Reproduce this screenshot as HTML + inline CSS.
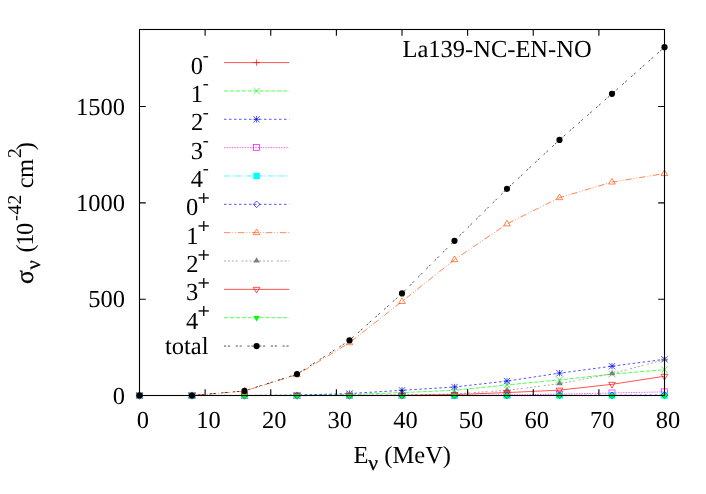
<!DOCTYPE html>
<html><head><meta charset="utf-8"><title>La139-NC-EN-NO</title>
<style>html,body{margin:0;padding:0;background:#fff;}svg{display:block;will-change:transform;text-rendering:geometricPrecision;}text{font-family:"Liberation Serif",serif;font-size:24.5px;fill:#000;}</style></head><body>
<svg width="706" height="494" viewBox="0 0 706 494">
<rect width="706" height="494" fill="#fff"/>
<text x="190.78" y="73.50">0</text>
<text x="202.69" y="61.07" style="font-size:18px">-</text>
<path d="M224.00 62.60H289.30" stroke="#ff0000" stroke-width="0.68" fill="none"/>
<path d="M253.40 62.60H259.80M256.60 59.40V65.80" stroke="#ff0000" stroke-width="0.68" fill="none"/>
<polyline points="139.50,395.50 192.00,395.50 244.50,395.50 297.00,395.50 349.50,395.50 402.00,395.50 454.50,395.50 507.00,395.50 559.50,395.50 612.00,395.50 664.50,395.50" stroke="#ff0000" stroke-width="0.68" fill="none"/>
<path d="M136.30 395.50H142.70M139.50 392.30V398.70" stroke="#ff0000" stroke-width="0.68" fill="none"/>
<path d="M188.80 395.50H195.20M192.00 392.30V398.70" stroke="#ff0000" stroke-width="0.68" fill="none"/>
<path d="M241.30 395.50H247.70M244.50 392.30V398.70" stroke="#ff0000" stroke-width="0.68" fill="none"/>
<path d="M293.80 395.50H300.20M297.00 392.30V398.70" stroke="#ff0000" stroke-width="0.68" fill="none"/>
<path d="M346.30 395.50H352.70M349.50 392.30V398.70" stroke="#ff0000" stroke-width="0.68" fill="none"/>
<path d="M398.80 395.50H405.20M402.00 392.30V398.70" stroke="#ff0000" stroke-width="0.68" fill="none"/>
<path d="M451.30 395.50H457.70M454.50 392.30V398.70" stroke="#ff0000" stroke-width="0.68" fill="none"/>
<path d="M503.80 395.50H510.20M507.00 392.30V398.70" stroke="#ff0000" stroke-width="0.68" fill="none"/>
<path d="M556.30 395.50H562.70M559.50 392.30V398.70" stroke="#ff0000" stroke-width="0.68" fill="none"/>
<path d="M608.80 395.50H615.20M612.00 392.30V398.70" stroke="#ff0000" stroke-width="0.68" fill="none"/>
<path d="M661.30 395.50H667.70M664.50 392.30V398.70" stroke="#ff0000" stroke-width="0.68" fill="none"/>
<text x="190.83" y="101.84">1</text>
<text x="202.69" y="89.41" style="font-size:18px">-</text>
<path d="M224.00 90.94H289.30" stroke="#00ff00" stroke-width="0.68" fill="none" stroke-dasharray="4.2 1.7"/>
<path d="M253.40 87.74L259.80 94.14M253.40 94.14L259.80 87.74" stroke="#00ff00" stroke-width="0.68" fill="none"/>
<polyline points="139.50,395.50 192.00,395.50 244.50,395.50 297.00,395.31 349.50,394.54 402.00,392.61 454.50,390.30 507.00,384.91 559.50,379.90 612.00,374.12 664.50,369.69" stroke="#00ff00" stroke-width="0.68" fill="none" stroke-dasharray="4.2 1.7"/>
<path d="M136.30 392.30L142.70 398.70M136.30 398.70L142.70 392.30" stroke="#00ff00" stroke-width="0.68" fill="none"/>
<path d="M188.80 392.30L195.20 398.70M188.80 398.70L195.20 392.30" stroke="#00ff00" stroke-width="0.68" fill="none"/>
<path d="M241.30 392.30L247.70 398.70M241.30 398.70L247.70 392.30" stroke="#00ff00" stroke-width="0.68" fill="none"/>
<path d="M293.80 392.11L300.20 398.51M293.80 398.51L300.20 392.11" stroke="#00ff00" stroke-width="0.68" fill="none"/>
<path d="M346.30 391.34L352.70 397.74M346.30 397.74L352.70 391.34" stroke="#00ff00" stroke-width="0.68" fill="none"/>
<path d="M398.80 389.41L405.20 395.81M398.80 395.81L405.20 389.41" stroke="#00ff00" stroke-width="0.68" fill="none"/>
<path d="M451.30 387.10L457.70 393.50M451.30 393.50L457.70 387.10" stroke="#00ff00" stroke-width="0.68" fill="none"/>
<path d="M503.80 381.71L510.20 388.11M503.80 388.11L510.20 381.71" stroke="#00ff00" stroke-width="0.68" fill="none"/>
<path d="M556.30 376.70L562.70 383.10M556.30 383.10L562.70 376.70" stroke="#00ff00" stroke-width="0.68" fill="none"/>
<path d="M608.80 370.92L615.20 377.32M608.80 377.32L615.20 370.92" stroke="#00ff00" stroke-width="0.68" fill="none"/>
<path d="M661.30 366.49L667.70 372.89M661.30 372.89L667.70 366.49" stroke="#00ff00" stroke-width="0.68" fill="none"/>
<text x="190.91" y="130.19">2</text>
<text x="202.69" y="117.76" style="font-size:18px">-</text>
<path d="M224.00 119.29H289.30" stroke="#0000ff" stroke-width="0.68" fill="none" stroke-dasharray="2.5 2.5"/>
<path d="M253.40 116.09L259.80 122.49M253.40 122.49L259.80 116.09M253.40 119.29H259.80M256.60 116.09V122.49" stroke="#0000ff" stroke-width="0.68" fill="none"/>
<polyline points="139.50,395.50 192.00,395.50 244.50,395.40 297.00,395.11 349.50,393.57 402.00,390.30 454.50,387.02 507.00,381.05 559.50,373.15 612.00,366.22 664.50,359.29" stroke="#0000ff" stroke-width="0.68" fill="none" stroke-dasharray="2.5 2.5"/>
<path d="M136.30 392.30L142.70 398.70M136.30 398.70L142.70 392.30M136.30 395.50H142.70M139.50 392.30V398.70" stroke="#0000ff" stroke-width="0.68" fill="none"/>
<path d="M188.80 392.30L195.20 398.70M188.80 398.70L195.20 392.30M188.80 395.50H195.20M192.00 392.30V398.70" stroke="#0000ff" stroke-width="0.68" fill="none"/>
<path d="M241.30 392.20L247.70 398.60M241.30 398.60L247.70 392.20M241.30 395.40H247.70M244.50 392.20V398.60" stroke="#0000ff" stroke-width="0.68" fill="none"/>
<path d="M293.80 391.91L300.20 398.31M293.80 398.31L300.20 391.91M293.80 395.11H300.20M297.00 391.91V398.31" stroke="#0000ff" stroke-width="0.68" fill="none"/>
<path d="M346.30 390.37L352.70 396.77M346.30 396.77L352.70 390.37M346.30 393.57H352.70M349.50 390.37V396.77" stroke="#0000ff" stroke-width="0.68" fill="none"/>
<path d="M398.80 387.10L405.20 393.50M398.80 393.50L405.20 387.10M398.80 390.30H405.20M402.00 387.10V393.50" stroke="#0000ff" stroke-width="0.68" fill="none"/>
<path d="M451.30 383.82L457.70 390.22M451.30 390.22L457.70 383.82M451.30 387.02H457.70M454.50 383.82V390.22" stroke="#0000ff" stroke-width="0.68" fill="none"/>
<path d="M503.80 377.85L510.20 384.25M503.80 384.25L510.20 377.85M503.80 381.05H510.20M507.00 377.85V384.25" stroke="#0000ff" stroke-width="0.68" fill="none"/>
<path d="M556.30 369.95L562.70 376.35M556.30 376.35L562.70 369.95M556.30 373.15H562.70M559.50 369.95V376.35" stroke="#0000ff" stroke-width="0.68" fill="none"/>
<path d="M608.80 363.02L615.20 369.42M608.80 369.42L615.20 363.02M608.80 366.22H615.20M612.00 363.02V369.42" stroke="#0000ff" stroke-width="0.68" fill="none"/>
<path d="M661.30 356.09L667.70 362.49M661.30 362.49L667.70 356.09M661.30 359.29H667.70M664.50 356.09V362.49" stroke="#0000ff" stroke-width="0.68" fill="none"/>
<text x="190.67" y="158.53">3</text>
<text x="202.69" y="146.10" style="font-size:18px">-</text>
<path d="M224.00 147.63H289.30" stroke="#ff00ff" stroke-width="0.68" fill="none" stroke-dasharray="1.3 1.3"/>
<rect x="253.60" y="144.63" width="6" height="6" stroke="#ff00ff" stroke-width="0.68" fill="none"/>
<polyline points="139.50,395.50 192.00,395.50 244.50,395.50 297.00,395.50 349.50,395.50 402.00,395.50 454.50,395.31 507.00,394.92 559.50,394.15 612.00,393.00 664.50,391.84" stroke="#ff00ff" stroke-width="0.68" fill="none" stroke-dasharray="1.3 1.3"/>
<rect x="136.50" y="392.50" width="6" height="6" stroke="#ff00ff" stroke-width="0.68" fill="none"/>
<rect x="189.00" y="392.50" width="6" height="6" stroke="#ff00ff" stroke-width="0.68" fill="none"/>
<rect x="241.50" y="392.50" width="6" height="6" stroke="#ff00ff" stroke-width="0.68" fill="none"/>
<rect x="294.00" y="392.50" width="6" height="6" stroke="#ff00ff" stroke-width="0.68" fill="none"/>
<rect x="346.50" y="392.50" width="6" height="6" stroke="#ff00ff" stroke-width="0.68" fill="none"/>
<rect x="399.00" y="392.50" width="6" height="6" stroke="#ff00ff" stroke-width="0.68" fill="none"/>
<rect x="451.50" y="392.31" width="6" height="6" stroke="#ff00ff" stroke-width="0.68" fill="none"/>
<rect x="504.00" y="391.92" width="6" height="6" stroke="#ff00ff" stroke-width="0.68" fill="none"/>
<rect x="556.50" y="391.15" width="6" height="6" stroke="#ff00ff" stroke-width="0.68" fill="none"/>
<rect x="609.00" y="390.00" width="6" height="6" stroke="#ff00ff" stroke-width="0.68" fill="none"/>
<rect x="661.50" y="388.84" width="6" height="6" stroke="#ff00ff" stroke-width="0.68" fill="none"/>
<text x="190.73" y="186.88">4</text>
<text x="202.69" y="174.45" style="font-size:18px">-</text>
<path d="M224.00 175.98H289.30" stroke="#00ffff" stroke-width="0.68" fill="none" stroke-dasharray="5.9 2 1.1 2"/>
<rect x="253.30" y="172.78" width="6.6" height="6.4" fill="#00ffff" stroke="none"/>
<polyline points="139.50,395.50 192.00,395.50 244.50,395.50 297.00,395.50 349.50,395.50 402.00,395.50 454.50,395.50 507.00,395.50 559.50,395.50 612.00,395.50 664.50,395.50" stroke="#00ffff" stroke-width="0.68" fill="none" stroke-dasharray="5.9 2 1.1 2"/>
<rect x="136.20" y="392.30" width="6.6" height="6.4" fill="#00ffff" stroke="none"/>
<rect x="188.70" y="392.30" width="6.6" height="6.4" fill="#00ffff" stroke="none"/>
<rect x="241.20" y="392.30" width="6.6" height="6.4" fill="#00ffff" stroke="none"/>
<rect x="293.70" y="392.30" width="6.6" height="6.4" fill="#00ffff" stroke="none"/>
<rect x="346.20" y="392.30" width="6.6" height="6.4" fill="#00ffff" stroke="none"/>
<rect x="398.70" y="392.30" width="6.6" height="6.4" fill="#00ffff" stroke="none"/>
<rect x="451.20" y="392.30" width="6.6" height="6.4" fill="#00ffff" stroke="none"/>
<rect x="503.70" y="392.30" width="6.6" height="6.4" fill="#00ffff" stroke="none"/>
<rect x="556.20" y="392.30" width="6.6" height="6.4" fill="#00ffff" stroke="none"/>
<rect x="608.70" y="392.30" width="6.6" height="6.4" fill="#00ffff" stroke="none"/>
<rect x="661.20" y="392.30" width="6.6" height="6.4" fill="#00ffff" stroke="none"/>
<text x="186.07" y="215.22">0</text>
<text x="197.82" y="205.03" style="font-size:21px" stroke="#000" stroke-width="0.3">+</text>
<path d="M224.00 204.32H289.30" stroke="#0000ff" stroke-width="0.68" fill="none" stroke-dasharray="2.5 2.5"/>
<path d="M253.30 204.32L256.60 201.02L259.90 204.32L256.60 207.62Z" stroke="#0000ff" stroke-width="0.68" fill="none"/>
<polyline points="139.50,395.50 192.00,395.50 244.50,395.50 297.00,395.50 349.50,395.50 402.00,395.50 454.50,395.50 507.00,395.50 559.50,395.31 612.00,395.31 664.50,395.11" stroke="#0000ff" stroke-width="0.68" fill="none" stroke-dasharray="2.5 2.5"/>
<path d="M136.20 395.50L139.50 392.20L142.80 395.50L139.50 398.80Z" stroke="#0000ff" stroke-width="0.68" fill="none"/>
<path d="M188.70 395.50L192.00 392.20L195.30 395.50L192.00 398.80Z" stroke="#0000ff" stroke-width="0.68" fill="none"/>
<path d="M241.20 395.50L244.50 392.20L247.80 395.50L244.50 398.80Z" stroke="#0000ff" stroke-width="0.68" fill="none"/>
<path d="M293.70 395.50L297.00 392.20L300.30 395.50L297.00 398.80Z" stroke="#0000ff" stroke-width="0.68" fill="none"/>
<path d="M346.20 395.50L349.50 392.20L352.80 395.50L349.50 398.80Z" stroke="#0000ff" stroke-width="0.68" fill="none"/>
<path d="M398.70 395.50L402.00 392.20L405.30 395.50L402.00 398.80Z" stroke="#0000ff" stroke-width="0.68" fill="none"/>
<path d="M451.20 395.50L454.50 392.20L457.80 395.50L454.50 398.80Z" stroke="#0000ff" stroke-width="0.68" fill="none"/>
<path d="M503.70 395.50L507.00 392.20L510.30 395.50L507.00 398.80Z" stroke="#0000ff" stroke-width="0.68" fill="none"/>
<path d="M556.20 395.31L559.50 392.01L562.80 395.31L559.50 398.61Z" stroke="#0000ff" stroke-width="0.68" fill="none"/>
<path d="M608.70 395.31L612.00 392.01L615.30 395.31L612.00 398.61Z" stroke="#0000ff" stroke-width="0.68" fill="none"/>
<path d="M661.20 395.11L664.50 391.81L667.80 395.11L664.50 398.41Z" stroke="#0000ff" stroke-width="0.68" fill="none"/>
<text x="186.13" y="243.57">1</text>
<text x="197.82" y="233.37" style="font-size:21px" stroke="#000" stroke-width="0.3">+</text>
<path d="M224.00 232.67H289.30" stroke="#ff4d00" stroke-width="0.68" fill="none" stroke-dasharray="6.4 2 0.9 2 0.9 1.8"/>
<path d="M256.60 228.97L253.30 234.67L259.90 234.67Z" stroke="#ff4d00" stroke-width="0.68" fill="none"/>
<polyline points="139.50,395.50 192.00,395.50 244.50,391.07 297.00,374.70 349.50,342.72 402.00,301.50 454.50,259.69 507.00,223.87 559.50,197.67 612.00,182.06 664.50,173.59" stroke="#ff4d00" stroke-width="0.68" fill="none" stroke-dasharray="6.4 2 0.9 2 0.9 1.8"/>
<path d="M139.50 391.80L136.20 397.50L142.80 397.50Z" stroke="#ff4d00" stroke-width="0.68" fill="none"/>
<path d="M192.00 391.80L188.70 397.50L195.30 397.50Z" stroke="#ff4d00" stroke-width="0.68" fill="none"/>
<path d="M244.50 387.37L241.20 393.07L247.80 393.07Z" stroke="#ff4d00" stroke-width="0.68" fill="none"/>
<path d="M297.00 371.00L293.70 376.70L300.30 376.70Z" stroke="#ff4d00" stroke-width="0.68" fill="none"/>
<path d="M349.50 339.02L346.20 344.72L352.80 344.72Z" stroke="#ff4d00" stroke-width="0.68" fill="none"/>
<path d="M402.00 297.80L398.70 303.50L405.30 303.50Z" stroke="#ff4d00" stroke-width="0.68" fill="none"/>
<path d="M454.50 255.99L451.20 261.69L457.80 261.69Z" stroke="#ff4d00" stroke-width="0.68" fill="none"/>
<path d="M507.00 220.17L503.70 225.87L510.30 225.87Z" stroke="#ff4d00" stroke-width="0.68" fill="none"/>
<path d="M559.50 193.97L556.20 199.67L562.80 199.67Z" stroke="#ff4d00" stroke-width="0.68" fill="none"/>
<path d="M612.00 178.36L608.70 184.06L615.30 184.06Z" stroke="#ff4d00" stroke-width="0.68" fill="none"/>
<path d="M664.50 169.89L661.20 175.59L667.80 175.59Z" stroke="#ff4d00" stroke-width="0.68" fill="none"/>
<text x="186.21" y="271.91">2</text>
<text x="197.82" y="261.71" style="font-size:21px" stroke="#000" stroke-width="0.3">+</text>
<path d="M224.00 261.01H289.30" stroke="#808080" stroke-width="0.68" fill="none" stroke-dasharray="2 1.9 2 1.9 2 1.9 2 3.9"/>
<path d="M256.60 257.31L253.30 262.62L259.90 262.62Z" fill="#808080" stroke="none"/>
<polyline points="139.50,395.50 192.00,395.50 244.50,395.50 297.00,395.50 349.50,395.31 402.00,394.92 454.50,393.96 507.00,390.30 559.50,383.75 612.00,373.73 664.50,359.67" stroke="#808080" stroke-width="0.68" fill="none" stroke-dasharray="2 1.9 2 1.9 2 1.9 2 3.9"/>
<path d="M139.50 391.80L136.20 397.10L142.80 397.10Z" fill="#808080" stroke="none"/>
<path d="M192.00 391.80L188.70 397.10L195.30 397.10Z" fill="#808080" stroke="none"/>
<path d="M244.50 391.80L241.20 397.10L247.80 397.10Z" fill="#808080" stroke="none"/>
<path d="M297.00 391.80L293.70 397.10L300.30 397.10Z" fill="#808080" stroke="none"/>
<path d="M349.50 391.61L346.20 396.91L352.80 396.91Z" fill="#808080" stroke="none"/>
<path d="M402.00 391.22L398.70 396.52L405.30 396.52Z" fill="#808080" stroke="none"/>
<path d="M454.50 390.26L451.20 395.56L457.80 395.56Z" fill="#808080" stroke="none"/>
<path d="M507.00 386.60L503.70 391.90L510.30 391.90Z" fill="#808080" stroke="none"/>
<path d="M559.50 380.05L556.20 385.35L562.80 385.35Z" fill="#808080" stroke="none"/>
<path d="M612.00 370.03L608.70 375.33L615.30 375.33Z" fill="#808080" stroke="none"/>
<path d="M664.50 355.97L661.20 361.27L667.80 361.27Z" fill="#808080" stroke="none"/>
<text x="185.97" y="300.26">3</text>
<text x="197.82" y="290.06" style="font-size:21px" stroke="#000" stroke-width="0.3">+</text>
<path d="M224.00 289.36H289.30" stroke="#ff0000" stroke-width="0.68" fill="none"/>
<path d="M256.60 293.06L253.30 287.36L259.90 287.36Z" stroke="#ff0000" stroke-width="0.68" fill="none"/>
<polyline points="139.50,395.50 192.00,395.50 244.50,395.50 297.00,395.50 349.50,395.50 402.00,395.31 454.50,394.54 507.00,392.61 559.50,390.11 612.00,384.33 664.50,376.24" stroke="#ff0000" stroke-width="0.68" fill="none"/>
<path d="M139.50 399.20L136.20 393.50L142.80 393.50Z" stroke="#ff0000" stroke-width="0.68" fill="none"/>
<path d="M192.00 399.20L188.70 393.50L195.30 393.50Z" stroke="#ff0000" stroke-width="0.68" fill="none"/>
<path d="M244.50 399.20L241.20 393.50L247.80 393.50Z" stroke="#ff0000" stroke-width="0.68" fill="none"/>
<path d="M297.00 399.20L293.70 393.50L300.30 393.50Z" stroke="#ff0000" stroke-width="0.68" fill="none"/>
<path d="M349.50 399.20L346.20 393.50L352.80 393.50Z" stroke="#ff0000" stroke-width="0.68" fill="none"/>
<path d="M402.00 399.01L398.70 393.31L405.30 393.31Z" stroke="#ff0000" stroke-width="0.68" fill="none"/>
<path d="M454.50 398.24L451.20 392.54L457.80 392.54Z" stroke="#ff0000" stroke-width="0.68" fill="none"/>
<path d="M507.00 396.31L503.70 390.61L510.30 390.61Z" stroke="#ff0000" stroke-width="0.68" fill="none"/>
<path d="M559.50 393.81L556.20 388.11L562.80 388.11Z" stroke="#ff0000" stroke-width="0.68" fill="none"/>
<path d="M612.00 388.03L608.70 382.33L615.30 382.33Z" stroke="#ff0000" stroke-width="0.68" fill="none"/>
<path d="M664.50 379.94L661.20 374.24L667.80 374.24Z" stroke="#ff0000" stroke-width="0.68" fill="none"/>
<text x="186.03" y="328.60">4</text>
<text x="197.82" y="318.40" style="font-size:21px" stroke="#000" stroke-width="0.3">+</text>
<path d="M224.00 317.70H289.30" stroke="#00ff00" stroke-width="0.68" fill="none" stroke-dasharray="4.2 1.7"/>
<path d="M256.60 321.40L253.30 316.10L259.90 316.10Z" fill="#00ff00" stroke="none"/>
<polyline points="139.50,395.50 192.00,395.50 244.50,395.50 297.00,395.50 349.50,395.50 402.00,395.50 454.50,395.50 507.00,395.50 559.50,395.50 612.00,395.50 664.50,395.50" stroke="#00ff00" stroke-width="0.68" fill="none" stroke-dasharray="4.2 1.7"/>
<path d="M139.50 399.20L136.20 393.90L142.80 393.90Z" fill="#00ff00" stroke="none"/>
<path d="M192.00 399.20L188.70 393.90L195.30 393.90Z" fill="#00ff00" stroke="none"/>
<path d="M244.50 399.20L241.20 393.90L247.80 393.90Z" fill="#00ff00" stroke="none"/>
<path d="M297.00 399.20L293.70 393.90L300.30 393.90Z" fill="#00ff00" stroke="none"/>
<path d="M349.50 399.20L346.20 393.90L352.80 393.90Z" fill="#00ff00" stroke="none"/>
<path d="M402.00 399.20L398.70 393.90L405.30 393.90Z" fill="#00ff00" stroke="none"/>
<path d="M454.50 399.20L451.20 393.90L457.80 393.90Z" fill="#00ff00" stroke="none"/>
<path d="M507.00 399.20L503.70 393.90L510.30 393.90Z" fill="#00ff00" stroke="none"/>
<path d="M559.50 399.20L556.20 393.90L562.80 393.90Z" fill="#00ff00" stroke="none"/>
<path d="M612.00 399.20L608.70 393.90L615.30 393.90Z" fill="#00ff00" stroke="none"/>
<path d="M664.50 399.20L661.20 393.90L667.80 393.90Z" fill="#00ff00" stroke="none"/>
<text x="208.50" y="354.35" text-anchor="end">total</text>
<path d="M224.00 346.05H289.30" stroke="#000000" stroke-width="0.68" fill="none" stroke-dasharray="2.2 1.7 2.2 5.6"/>
<circle cx="256.60" cy="346.05" r="3.1" fill="#000000" stroke="none"/>
<polyline points="139.50,395.50 192.00,395.50 244.50,390.88 297.00,374.12 349.50,340.41 402.00,293.41 454.50,240.82 507.00,188.81 559.50,139.88 612.00,93.84 664.50,47.22" stroke="#000000" stroke-width="0.68" fill="none" stroke-dasharray="2.2 1.7 2.2 5.6"/>
<circle cx="139.50" cy="395.50" r="3.1" fill="#000000" stroke="none"/>
<circle cx="192.00" cy="395.50" r="3.1" fill="#000000" stroke="none"/>
<circle cx="244.50" cy="390.88" r="3.1" fill="#000000" stroke="none"/>
<circle cx="297.00" cy="374.12" r="3.1" fill="#000000" stroke="none"/>
<circle cx="349.50" cy="340.41" r="3.1" fill="#000000" stroke="none"/>
<circle cx="402.00" cy="293.41" r="3.1" fill="#000000" stroke="none"/>
<circle cx="454.50" cy="240.82" r="3.1" fill="#000000" stroke="none"/>
<circle cx="507.00" cy="188.81" r="3.1" fill="#000000" stroke="none"/>
<circle cx="559.50" cy="139.88" r="3.1" fill="#000000" stroke="none"/>
<circle cx="612.00" cy="93.84" r="3.1" fill="#000000" stroke="none"/>
<circle cx="664.50" cy="47.22" r="3.1" fill="#000000" stroke="none"/>
<g stroke="#000" stroke-width="1.1" fill="none">
<rect x="139.50" y="29.50" width="525.00" height="366.00"/>
<path d="M205.12 395.50v-6.3M205.12 29.50v6.3M270.75 395.50v-6.3M270.75 29.50v6.3M336.38 395.50v-6.3M336.38 29.50v6.3M402.00 395.50v-6.3M402.00 29.50v6.3M467.62 395.50v-6.3M467.62 29.50v6.3M533.25 395.50v-6.3M533.25 29.50v6.3M598.88 395.50v-6.3M598.88 29.50v6.3M139.50 299.18h6.3M664.50 299.18h-6.3M139.50 202.87h6.3M664.50 202.87h-6.3M139.50 106.55h6.3M664.50 106.55h-6.3"/>
</g>
<text x="142.90" y="428.00" text-anchor="middle">0</text>
<text x="208.53" y="428.00" text-anchor="middle">10</text>
<text x="274.15" y="428.00" text-anchor="middle">20</text>
<text x="339.77" y="428.00" text-anchor="middle">30</text>
<text x="405.40" y="428.00" text-anchor="middle">40</text>
<text x="471.02" y="428.00" text-anchor="middle">50</text>
<text x="536.65" y="428.00" text-anchor="middle">60</text>
<text x="602.27" y="428.00" text-anchor="middle">70</text>
<text x="667.90" y="428.00" text-anchor="middle">80</text>
<text x="125.00" y="403.50" text-anchor="end">0</text>
<text x="125.00" y="307.18" text-anchor="end">500</text>
<text x="125.00" y="210.87" text-anchor="end">1000</text>
<text x="125.00" y="114.55" text-anchor="end">1500</text>
<text x="591.60" y="57.10" text-anchor="end">La139-NC-EN-NO</text>
<text x="353.47" y="462.70">E</text>
<text x="368.37" y="470.20" style="font-size:21.5px" stroke="#000" stroke-width="0.3">ν</text>
<text x="384.37" y="462.70">(MeV)</text>
<g transform="rotate(-90)">
<text x="-284.12" y="33.15" style="font-size:25.5px" stroke="#000" stroke-width="0.3">σ</text>
<text x="-269.42" y="39.50" style="font-size:20.5px" stroke="#000" stroke-width="0.3">ν</text>
<text x="-252.62" y="33.15">(</text>
<text x="-245.82" y="33.15">1</text>
<text x="-234.88" y="33.15">0</text>
<text x="-221.01" y="20.80" style="font-size:18px">-</text>
<text x="-214.59" y="21.00" style="font-size:19.6px">4</text>
<text x="-204.39" y="21.00" style="font-size:19.6px">2</text>
<text x="-188.18" y="33.15">c</text>
<text x="-177.89" y="33.15">m</text>
<text x="-158.09" y="21.00" style="font-size:19.6px">2</text>
<text x="-150.24" y="33.15">)</text>
</g>
</svg></body></html>
